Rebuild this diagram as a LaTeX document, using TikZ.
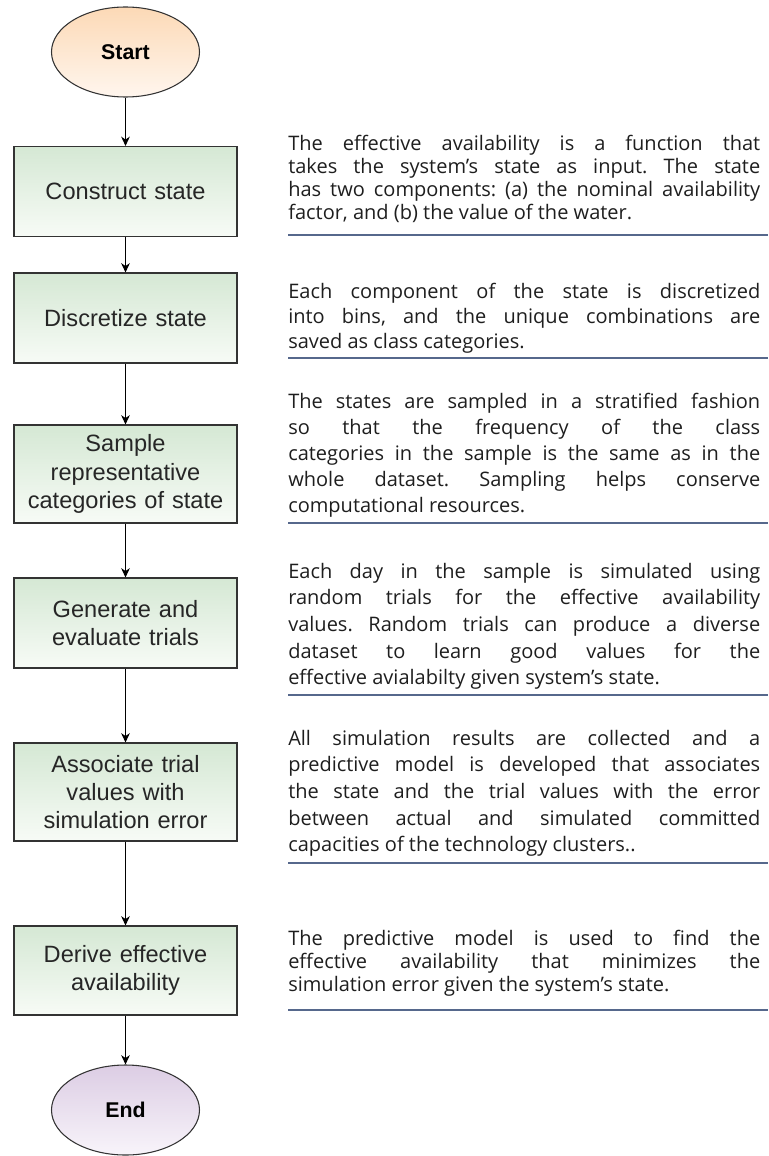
\documentclass[tikz,border=0pt]{standalone}
\usepackage{fontspec}
\setmainfont{Liberation Sans}
\newfontfamily\handfont{Open Sans}
\usetikzlibrary{arrows.meta,shapes.geometric}

\definecolor{boxtop}{HTML}{D5E8D4}
\definecolor{boxbot}{HTML}{F7FBF6}
\definecolor{starttop}{HTML}{FCD9B6}
\definecolor{startbot}{HTML}{FFF6EE}
\definecolor{endtop}{HTML}{DCCDE4}
\definecolor{endbot}{HTML}{F8F4FA}
\definecolor{edgegray}{HTML}{333333}
\definecolor{ruleblue}{HTML}{56688C}
\definecolor{handink}{HTML}{1E1E1E}

\newcommand{\myjl}[1]{\hbox to\hsize{#1}}
\newcommand{\mylast}[1]{\hbox{#1}}
\frenchspacing

\tikzset{
  stepbox/.style={rectangle, draw=edgegray, line width=0.8pt, top color=boxtop, bottom color=boxbot,
    minimum width=167.25pt, text width=157pt, align=center, inner sep=0pt,
    font=\fontsize{17.7}{21.2}\selectfont, text=black!85},
  termstart/.style={ellipse, draw=edgegray, line width=0.8pt, top color=starttop, bottom color=startbot,
    minimum width=111pt, minimum height=67.5pt, inner sep=0pt, font=\bfseries\fontsize{16}{19}\selectfont},
  termend/.style={ellipse, draw=edgegray, line width=0.8pt, top color=endtop, bottom color=endbot,
    minimum width=111pt, minimum height=67.5pt, inner sep=0pt, font=\bfseries\fontsize{16}{19}\selectfont},
  flow/.style={draw=black, line width=0.8pt, -{Stealth[length=7pt,width=6.5pt,inset=2.2pt]}},
  handtext/.style={anchor=base west, inner sep=0pt, text=handink},
  ruleline/.style={draw=ruleblue, line width=1.4pt},
}

\begin{document}
\begin{tikzpicture}[x=0.75pt,y=-0.75pt]
\useasboundingbox (0,0) rectangle (768,1156);

% flow chart
\node[termstart] (start) at (125.5,52) {Start};
\node[stepbox, minimum height=67.5pt] (construct) at (125.5,191.5) {Construct state};
\node[stepbox, minimum height=67.5pt] (discretize) at (125.5,318) {Discretize state};
\node[stepbox, minimum height=73.5pt] (sample) at (125.5,474) {Sample\\representative\\categories of state};
\node[stepbox, minimum height=67.5pt] (generate) at (125.5,623) {Generate and\\evaluate trials};
\node[stepbox, minimum height=73.5pt] (associate) at (125.5,792) {Associate trial\\values with\\simulation error};
\node[stepbox, minimum height=66.75pt] (derive) at (125.5,970.5) {Derive effective\\availability};
\node[termend] (end) at (125.5,1110) {End};

\draw[flow] (start) -- (construct);
\draw[flow] (construct) -- (discretize);
\draw[flow] (discretize) -- (sample);
\draw[flow] (sample) -- (generate);
\draw[flow] (generate) -- (associate);
\draw[flow] (associate) -- (derive);
\draw[flow] (derive) -- (end);

% descriptions
\node[handtext] (d1) at (288,150) {\parbox[t]{354pt}{\handfont\fontsize{15}{17.25}\selectfont
\myjl{The effective availability is a function that}
\myjl{takes the system’s state as input. The state}
\myjl{has two components: (a) the nominal availability}
\mylast{factor, and (b) the value of the water.}}};

\node[handtext] (d2) at (288,298) {\parbox[t]{354pt}{\handfont\fontsize{15}{18.75}\selectfont
\myjl{Each component of the state is discretized}
\myjl{into bins, and the unique combinations are}
\mylast{saved as class categories.}}};

\node[handtext] (d3) at (288,408) {\parbox[t]{354pt}{\handfont\fontsize{15}{19.5}\selectfont
\myjl{The states are sampled in a stratified fashion}
\myjl{so that the frequency of the class}
\myjl{categories in the sample is the same as in the}
\myjl{whole dataset. Sampling helps conserve}
\mylast{computational resources.}}};

\node[handtext] (d4) at (288,578) {\parbox[t]{354pt}{\handfont\fontsize{15}{20}\selectfont
\myjl{Each day in the sample is simulated using}
\myjl{random trials for the effective availability}
\myjl{values. Random trials can produce a diverse}
\myjl{dataset to learn good values for the}
\mylast{effective avialabilty given system’s state.}}};

\node[handtext] (d5) at (288,745) {\parbox[t]{354pt}{\handfont\fontsize{15}{20}\selectfont
\myjl{All simulation results are collected and a}
\myjl{predictive model is developed that associates}
\myjl{the state and the trial values with the error}
\myjl{between actual and simulated committed}
\mylast{capacities of the technology clusters..}}};

\node[handtext] (d6) at (288,945) {\parbox[t]{354pt}{\handfont\fontsize{15}{17.5}\selectfont
\myjl{The predictive model is used to find the}
\myjl{effective availability that minimizes the}
\mylast{simulation error given the system’s state.}}};

% underlines
\draw[ruleline] (288,235) -- (768,235);
\draw[ruleline] (288,358) -- (768,358);
\draw[ruleline] (288,523) -- (768,523);
\draw[ruleline] (288,695) -- (768,695);
\draw[ruleline] (288,863) -- (768,863);
\draw[ruleline] (288,1010) -- (768,1010);
\end{tikzpicture}
\end{document}
